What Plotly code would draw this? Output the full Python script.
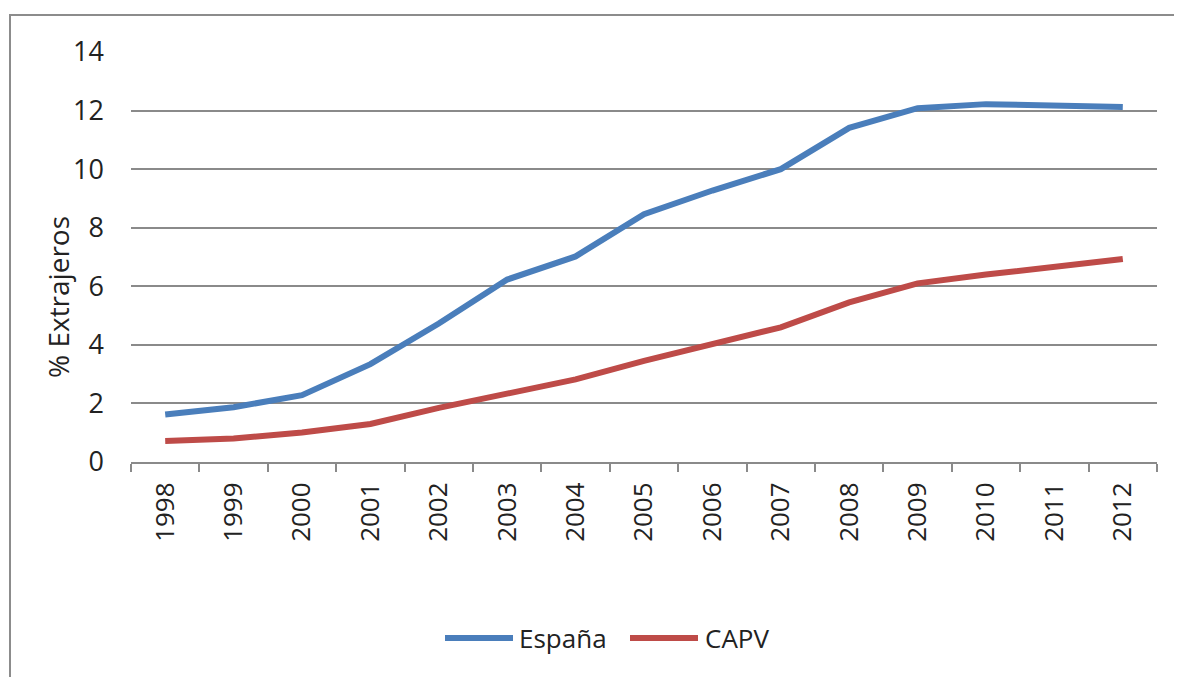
import plotly.graph_objects as go

years = ["1998", "1999", "2000", "2001", "2002", "2003", "2004", "2005",
         "2006", "2007", "2008", "2009", "2010", "2011", "2012"]
espana = [1.62, 1.87, 2.28, 3.34, 4.73, 6.23, 7.02, 8.46, 9.27, 10.0,
          11.41, 12.08, 12.22, 12.18, 12.12]
capv = [0.72, 0.8, 1.01, 1.3, 1.85, 2.35, 2.82, 3.45, 4.02, 4.6,
        5.45, 6.1, 6.4, 6.65, 6.93]
y_ticks = [0, 2, 4, 6, 8, 10, 12, 14]
series_names = ["España", "CAPV"]
series_colors = ["#4A7EBB", "#BE4B48"]
y_title = "% Extrajeros"

FONT = "Open Sans"
GRID = "#8a8a8a"

fig = go.Figure()
for name, vals, col in zip(series_names, [espana, capv], series_colors):
    fig.add_trace(go.Scatter(x=years, y=vals, mode="lines", name=name,
                             line=dict(color=col, width=6), showlegend=False))

# page body has an 8px margin; plot area target: x 131..1157, y 52..462 (screen)
W, H = 1182, 677
L, R, T, B = 123, 33, 44, 223
pw = W - L - R
ph = H - T - B

def px(x):
    return (x - 8 - L) / pw

def py(y):
    return (H - B + 8 - y) / ph

shapes = [dict(type="rect", xref="paper", yref="paper",
               x0=px(10), x1=px(1300), y0=py(800), y1=py(15),
               line=dict(color="#8c8c8c", width=2), layer="below")]
annotations = [dict(text=y_title, xref="paper", yref="paper", x=px(58), y=py(297),
                    xanchor="center", yanchor="middle", textangle=-90, showarrow=False,
                    font=dict(size=28, family=FONT, color="#222222"))]
legend_items = [(445, 513, 517), (630, 698, 703)]
for (x0, x1, xt), name, col in zip(legend_items, series_names, series_colors):
    shapes.append(dict(type="line", xref="paper", yref="paper",
                       x0=px(x0), x1=px(x1), y0=py(638), y1=py(638),
                       line=dict(color=col, width=6)))
    annotations.append(dict(text=name, xref="paper", yref="paper",
                            x=px(xt), y=py(638), xanchor="left", yanchor="middle",
                            showarrow=False, font=dict(size=26, family=FONT, color="#222222")))

fig.update_layout(
    width=W, height=H,
    margin=dict(l=L, r=R, t=T, b=B),
    paper_bgcolor="white", plot_bgcolor="white",
    font=dict(family=FONT, size=27, color="#222222"),
    showlegend=False,
    xaxis=dict(type="category", range=[-0.5, 14.5], tickson="boundaries",
               ticks="outside", ticklen=8, tickwidth=2, tickcolor=GRID,
               showline=True, linecolor=GRID, linewidth=2, showgrid=False,
               tickangle=-90, ticklabelstandoff=8, tickfont=dict(size=26)),
    yaxis=dict(range=[0, 14], tickvals=y_ticks, showgrid=True, gridcolor=GRID,
               gridwidth=2, zeroline=False, showline=False, ticks="",
               ticklabelstandoff=26, tickfont=dict(size=27)),
    shapes=shapes,
    annotations=annotations,
)

fig.write_html("out.html")
